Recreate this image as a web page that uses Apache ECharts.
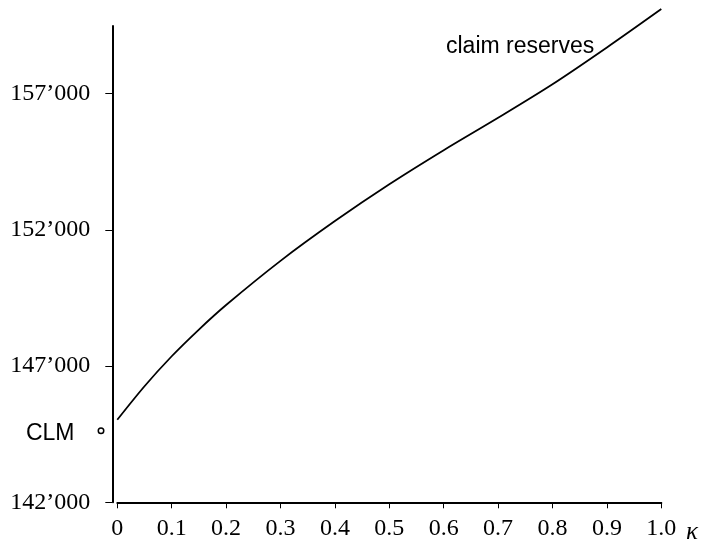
<!DOCTYPE html>
<html>
<head>
<meta charset="utf-8">
<script src="https://cdn.jsdelivr.net/npm/echarts@6/dist/echarts.min.js"></script>
<style>
  html, body { margin: 0; padding: 0; background: #fff; }
  #chart { width: 706px; height: 543px; }
</style>
</head>
<body>
<div id="chart"></div>
<script>
// Claim reserves as a function of the credibility weight kappa
const kappa = [0, 0.05, 0.1, 0.15, 0.2, 0.3, 0.4, 0.5, 0.6, 0.7, 0.8, 0.9, 1.0];
const reserves = [145030, 146260, 147360, 148340, 149240, 150860, 152320, 153670, 154920, 156110, 157340, 158690, 160100];

// Chain-ladder reserve shown as a single reference point
const clmReserve = 144630;

// Tick values
const yTicks = [142000, 147000, 152000, 157000];
const xTicks = [0, 0.1, 0.2, 0.3, 0.4, 0.5, 0.6, 0.7, 0.8, 0.9, 1.0];

const serif = '"Liberation Serif", "DejaVu Serif", serif';
const sans = '"Liberation Sans", "DejaVu Sans", sans-serif';

function fmtThousands(v) {
  const k = Math.floor(v / 1000);
  const r = String(Math.round(v - k * 1000)).padStart(3, '0');
  return k + '\u2019' + r;
}
function fmtKappa(v) {
  if (Math.abs(v) < 1e-9) return '0';
  return v.toFixed(1);
}

const chart = echarts.init(document.getElementById('chart'), null, { renderer: 'canvas' });

chart.setOption({
  animation: false,
  backgroundColor: '#ffffff',
  grid: { left: 117.3, right: 44.7, top: 26, bottom: 40.7, containLabel: false },
  xAxis: {
    type: 'value',
    min: 0,
    max: 1,
    interval: 0.1,
    axisLine: { show: true, onZero: false, lineStyle: { color: '#000', width: 2 } },
    axisTick: { show: true, length: 6, lineStyle: { color: '#000', width: 1 } },
    axisLabel: {
      show: true,
      margin: 14,
      fontFamily: serif,
      fontSize: 24,
      color: '#000',
      formatter: fmtKappa,
      customValues: xTicks
    },
    splitLine: { show: false }
  },
  yAxis: {
    type: 'value',
    min: 142000,
    max: 159480,
    interval: 5000,
    offset: 5,
    axisLine: { show: true, onZero: false, lineStyle: { color: '#000', width: 2 } },
    axisTick: { show: true, length: 7, lineStyle: { color: '#000', width: 1 }, customValues: yTicks },
    axisLabel: {
      show: true,
      margin: 22,
      fontFamily: serif,
      fontSize: 24,
      color: '#000',
      formatter: fmtThousands,
      customValues: yTicks
    },
    splitLine: { show: false }
  },
  series: [
    {
      name: 'claim reserves',
      type: 'line',
      data: kappa.map((k, i) => [k, reserves[i]]),
      smooth: 0.3,
      showSymbol: false,
      clip: false,
      lineStyle: { color: '#000', width: 1.8 },
      silent: true
    },
    {
      name: 'CLM',
      type: 'scatter',
      data: [[0, clmReserve]],
      symbol: 'circle',
      symbolSize: 5.5,
      symbolOffset: [-16.3, 0],
      clip: false,
      itemStyle: { color: '#fff', borderColor: '#000', borderWidth: 1.5, opacity: 1 },
      label: {
        show: true,
        position: 'left',
        distance: 23,
        offset: [0, 3],
        formatter: 'CLM',
        fontFamily: sans,
        fontSize: 23,
        color: '#000',
        opacity: 1
      },
      silent: true
    }
  ],
  graphic: [
    {
      type: 'text',
      left: 446,
      top: 35,
      style: {
        text: 'claim reserves',
        fontFamily: sans,
        fontSize: 23,
        fill: '#000'
      }
    },
    {
      type: 'text',
      x: 692,
      y: 532,
      style: {
        text: '\u03BA',
        fontFamily: serif,
        fontStyle: 'italic',
        fontSize: 25,
        fill: '#000',
        align: 'center',
        verticalAlign: 'middle'
      }
    }
  ]
});
</script>
</body>
</html>
